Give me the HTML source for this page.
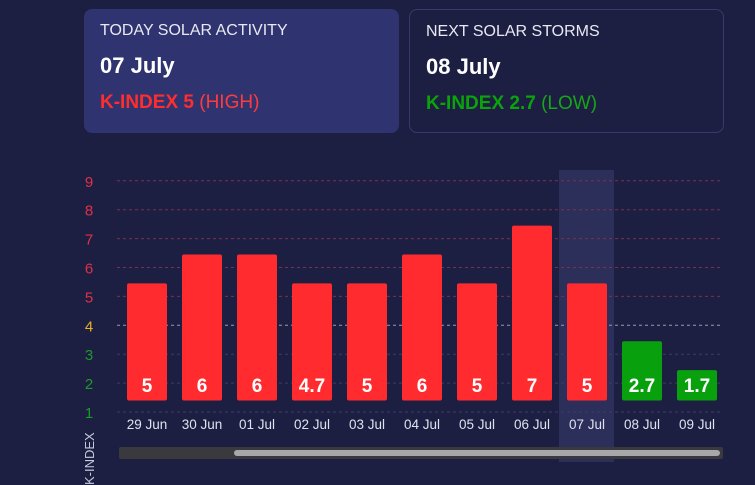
<!DOCTYPE html>
<html><head><meta charset="utf-8"><style>
body{margin:0;width:755px;height:485px;background:#1d1f42;font-family:"Liberation Sans",sans-serif;overflow:hidden;position:relative}
.card{position:absolute;top:9px;height:124px;border-radius:8px;box-sizing:border-box;padding:12px 16px;color:#fff}
.c1{left:84px;width:315px;background:#2f3470}
.c2{left:409px;width:315px;border:1px solid #363b6e;background:#1d1f42}
.t{font-size:16px;color:#e8e9f2;margin-top:1px}
.d{font-size:22px;font-weight:bold;margin-top:13px}
.k{font-size:19px;margin-top:13px}
</style></head><body>
<div class="card c1">
<div class="t">TODAY SOLAR ACTIVITY</div>
<div class="d">07 July</div>
<div class="k"><b style="color:#ff2d2d">K-INDEX 5</b> <span style="color:#ff3b3b">(HIGH)</span></div>
</div>
<div class="card c2">
<div class="t">NEXT SOLAR STORMS</div>
<div class="d">08 July</div>
<div class="k"><b style="color:#0aa40a">K-INDEX 2.7</b> <span style="color:#16a616">(LOW)</span></div>
</div>
<svg id="chart" width="755" height="485" style="position:absolute;left:0;top:0"></svg>
<script>
const categories=["29 Jun","30 Jun","01 Jul","02 Jul","03 Jul","04 Jul","05 Jul","06 Jul","07 Jul","08 Jul","09 Jul"];
const values=[5,6,6,4.7,5,6,5,7,5,2.7,1.7];
const yTicks=[1,2,3,4,5,6,7,8,9];
const highlightIndex=8;
const NS="http://www.w3.org/2000/svg";
const svg=document.getElementById("chart");
function y(v){return 412-(v-1)*28.9;}
function x(i){return 127+i*55;}
function mk(t,a){const e=document.createElementNS(NS,t);for(const k in a)e.setAttribute(k,a[k]);svg.appendChild(e);return e;}
function tickColor(v){return v>=5?"#e0304a":v==4?"#e8b21e":"#1a9a2a";}
// highlight
const hl=mk("rect",{x:x(highlightIndex)-8,y:170,width:55,height:292,fill:"#2c2f5a"});


yTicks.forEach(v=>{
  const g=mk("line",{x1:117,x2:722,y1:y(v),y2:y(v),stroke:v>=5?"#7a3050":v==4?"#9a9aa8":"#3a3e66","stroke-dasharray":"3,3","stroke-width":1});
  
  
  const t=mk("text",{x:89,y:y(v)+6,"font-size":15,fill:tickColor(v),"text-anchor":"middle"});
  t.textContent=v;
  
  
});
const yt=mk("text",{x:0,y:0,"font-size":13,fill:"#c8c9dc",transform:"translate(94,485) rotate(-90)"});
yt.textContent="K-INDEX";


categories.forEach((c,i)=>{
  const v=values[i];
  const top=y(Math.ceil(v)+0.45), bot=y(1.4);
  const col=v>=4?"#ff2b2e":"#08a00c";
  const b=mk("rect",{x:x(i),y:top,width:40,height:bot-top,fill:col,rx:2});
  
  
  const l=mk("text",{x:x(i)+20,y:392,"font-size":19,"font-weight":"bold",fill:"#fff","text-anchor":"middle"});
  l.textContent=v;
  
  
  const xl=mk("text",{x:x(i)+20,y:429,"font-size":13.5,fill:"#e0e1ee","text-anchor":"middle"});
  xl.textContent=c;
  
  
});
const sb=mk("rect",{x:119,y:447,width:604,height:12,fill:"#3a3a3e",rx:2});


const th=mk("rect",{x:234,y:450,width:486,height:6,fill:"#a8a8aa",rx:3});


</script>
</body></html>
